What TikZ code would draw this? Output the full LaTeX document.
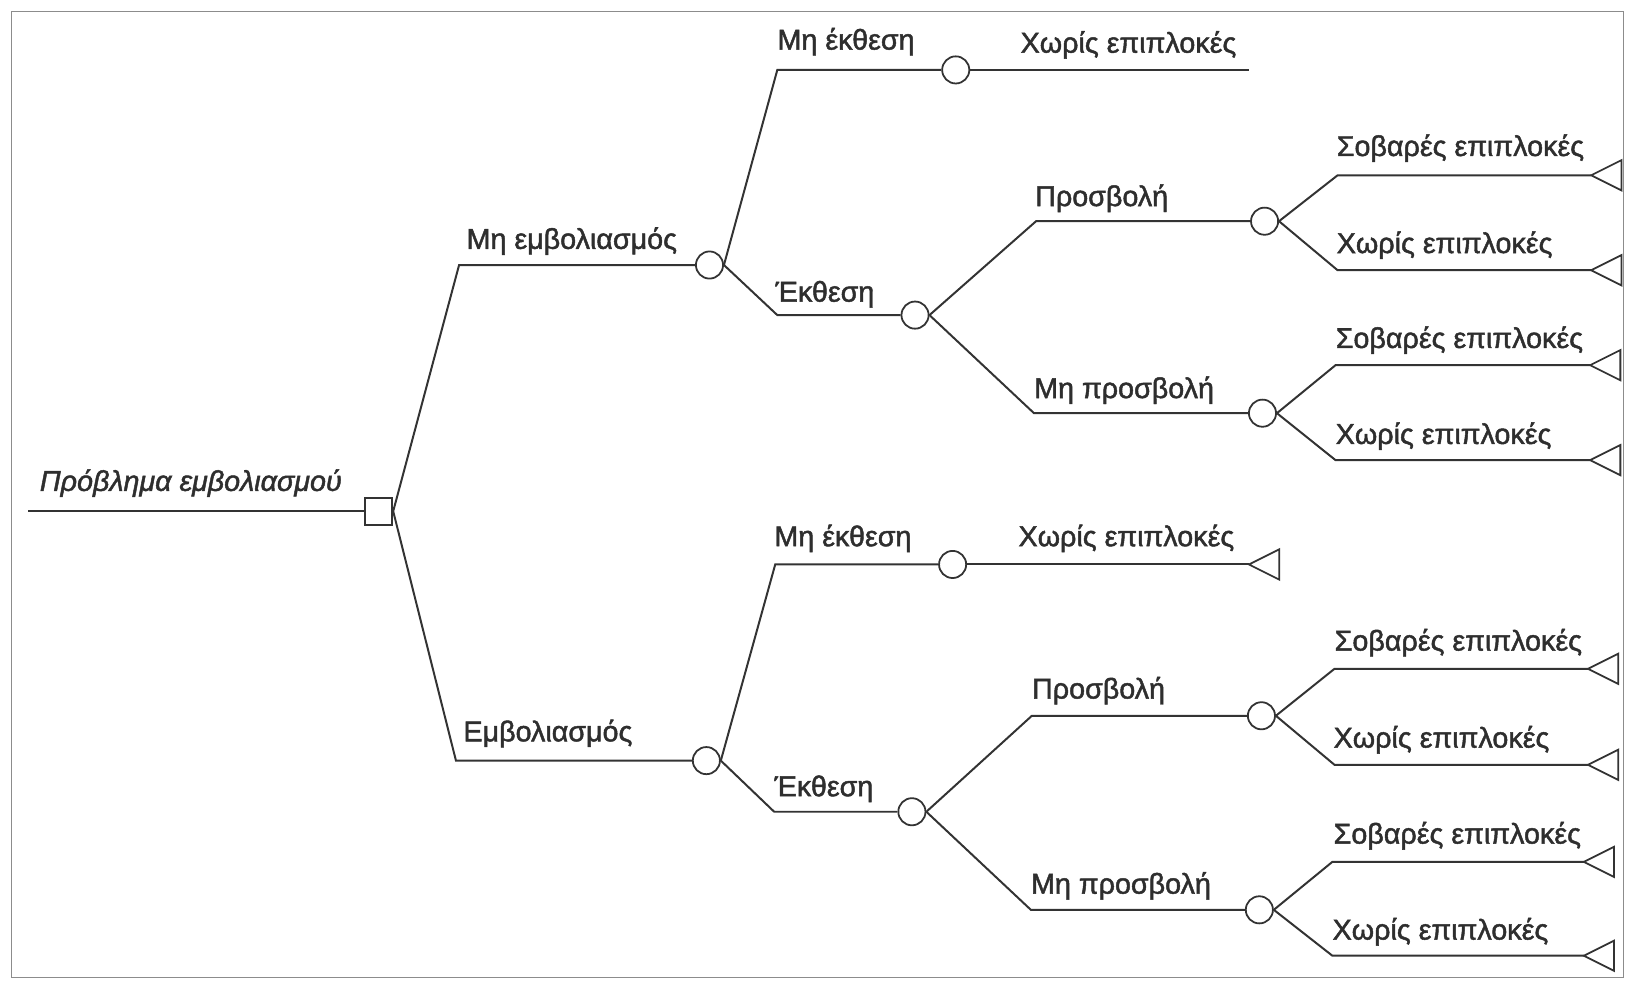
\documentclass[tikz,border=0pt]{standalone}
\usepackage{fontspec}
\setmainfont{Liberation Sans}
\newfontfamily\labfont{Liberation Sans}[FakeBold=1.6]
\newfontfamily\labitfont{Liberation Sans Italic}[FakeBold=1.6]
\begin{document}
\begin{tikzpicture}[x=1pt,y=-1pt,
  link/.style={draw=black!80,line width=1.9pt,line join=miter},
  frame/.style={draw=black!45,line width=0.7pt},
  lab/.style={anchor=west,inner sep=0pt,text=black!82,font=\labfont\fontsize{27.5}{30}\selectfont},
  chance/.style={circle,draw=black!80,line width=1.7pt,fill=white,minimum size=26pt,inner sep=0pt},
  decision/.style={rectangle,draw=black!80,line width=1.7pt,fill=white,minimum size=26pt,inner sep=0pt},
  tri/.style={draw=black!80,line width=1.7pt,line join=miter}]
\useasboundingbox (0,0) rectangle (1568,940);
\draw[frame] (11,11) rectangle (1556,937);
% decision and chance nodes
\coordinate (r0) at (27,490);
\node[decision] (D) at (363,490) {};
\coordinate (a1) at (440,254);
\coordinate (a2) at (437,729);
\node[chance] (C1) at (680,254) {};
\node[chance] (C2) at (677,729) {};
% upper subtree
\coordinate (b1) at (745,67);
\node[chance] (C11) at (916,67) {};
\coordinate (t0) at (1197,67);
\coordinate (b2) at (745,302);
\node[chance] (C12) at (877,302) {};
\coordinate (c1) at (993,212);
\node[chance] (C121) at (1212,212) {};
\coordinate (c2) at (991,396);
\node[chance] (C122) at (1210,396) {};
\coordinate (d1) at (1282,168); \coordinate (T1) at (1525,168);
\coordinate (d2) at (1282,259); \coordinate (T2) at (1525,259);
\coordinate (d3) at (1280,350); \coordinate (T3) at (1524,350);
\coordinate (d4) at (1280,441); \coordinate (T4) at (1524,441);
% lower subtree
\coordinate (b3) at (743,541);
\node[chance] (C21) at (913,541) {};
\coordinate (T5) at (1197,541);
\coordinate (b4) at (742,778);
\node[chance] (C22) at (874,778) {};
\coordinate (c3) at (989,686);
\node[chance] (C221) at (1209,686) {};
\coordinate (c4) at (988,872);
\node[chance] (C222) at (1207,872) {};
\coordinate (d5) at (1279,641); \coordinate (T6) at (1522,641);
\coordinate (d6) at (1279,733); \coordinate (T7) at (1522,733);
\coordinate (d7) at (1277,826); \coordinate (T8) at (1518,826);
\coordinate (d8) at (1277,916); \coordinate (T9) at (1518,916);
% connectors
\draw[link] (r0) -- (D.west);
\draw[link] (D.east) -- (a1) -- (C1.west);
\draw[link] (D.east) -- (a2) -- (C2.west);
\draw[link] (C1.east) -- (b1) -- (C11.west);
\draw[link] (C11.east) -- (t0);
\draw[link] (C1.east) -- (b2) -- (C12.west);
\draw[link] (C12.east) -- (c1) -- (C121.west);
\draw[link] (C12.east) -- (c2) -- (C122.west);
\draw[link] (C121.east) -- (d1) -- (T1);
\draw[link] (C121.east) -- (d2) -- (T2);
\draw[link] (C122.east) -- (d3) -- (T3);
\draw[link] (C122.east) -- (d4) -- (T4);
\draw[link] (C2.east) -- (b3) -- (C21.west);
\draw[link] (C21.east) -- (T5);
\draw[link] (C2.east) -- (b4) -- (C22.west);
\draw[link] (C22.east) -- (c3) -- (C221.west);
\draw[link] (C22.east) -- (c4) -- (C222.west);
\draw[link] (C221.east) -- (d5) -- (T6);
\draw[link] (C221.east) -- (d6) -- (T7);
\draw[link] (C222.east) -- (d7) -- (T8);
\draw[link] (C222.east) -- (d8) -- (T9);
% terminal triangles
\foreach \t in {T1,T2,T3,T4,T5,T6,T7,T8,T9}
  \draw[tri] (\t) -- ++(29,-14.5) -- ++(0,29) -- cycle;
% labels
\node[lab,font=\labitfont\fontsize{27.5}{30}\selectfont] (L0) at (38,463) {Πρόβλημα εμβολιασμού};
\node[lab] (L1) at (447,231) {Μη εμβολιασμός};
\node[lab] (L2) at (444,703) {Εμβολιασμός};
\node[lab] (L3) at (745,40) {Μη έκθεση};
\node[lab] (L4) at (978,43) {Χωρίς επιπλοκές};
\node[lab] (L5) at (743,282) {Έκθεση};
\node[lab] (L6) at (992,190) {Προσβολή};
\node[lab] (L7) at (1281,142) {Σοβαρές επιπλοκές};
\node[lab] (L8) at (1281,235) {Χωρίς επιπλοκές};
\node[lab] (L9) at (991,374) {Μη προσβολή};
\node[lab] (L10) at (1280,326) {Σοβαρές επιπλοκές};
\node[lab] (L11) at (1280,418) {Χωρίς επιπλοκές};
\node[lab] (L12) at (742,516) {Μη έκθεση};
\node[lab] (L13) at (976,516) {Χωρίς επιπλοκές};
\node[lab] (L14) at (742,756) {Έκθεση};
\node[lab] (L15) at (989,662) {Προσβολή};
\node[lab] (L16) at (1279,616) {Σοβαρές επιπλοκές};
\node[lab] (L17) at (1278,709) {Χωρίς επιπλοκές};
\node[lab] (L18) at (988,849) {Μη προσβολή};
\node[lab] (L19) at (1278,801) {Σοβαρές επιπλοκές};
\node[lab] (L20) at (1277,893) {Χωρίς επιπλοκές};
\end{tikzpicture}
\end{document}
